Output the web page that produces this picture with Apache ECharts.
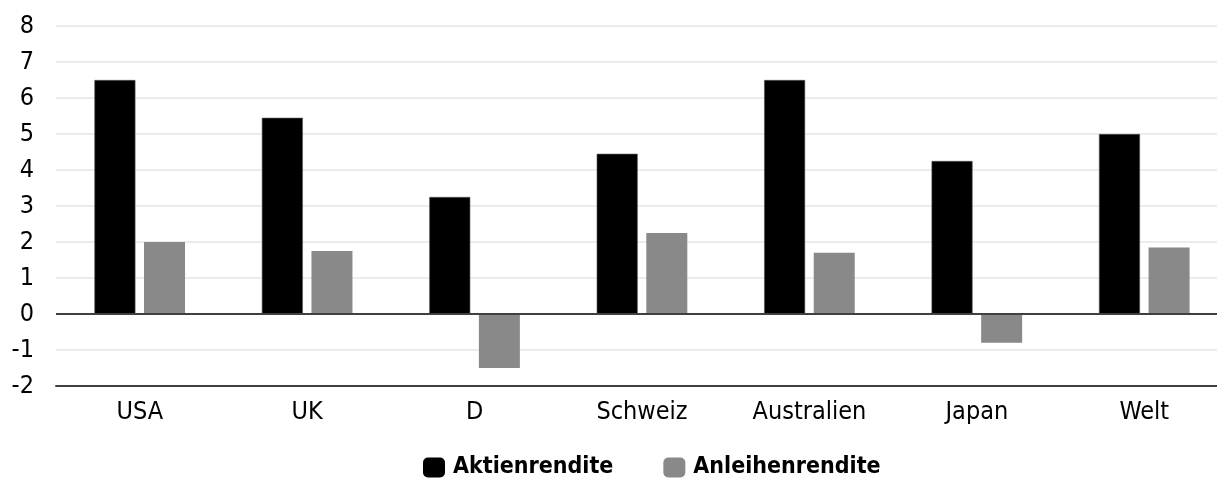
<!DOCTYPE html>
<html>
<head>
<meta charset="utf-8">
<script src="https://cdn.jsdelivr.net/npm/echarts@6/dist/echarts.min.js"></script>
<style>
html,body{margin:0;padding:0;background:#fff;}
#chart{width:1217px;height:480px;}
</style>
</head>
<body>
<div id="chart"></div>
<script>
var categories = ['USA', 'UK', 'D', 'Schweiz', 'Australien', 'Japan', 'Welt'];
var aktienrendite = [6.5, 5.45, 3.25, 4.45, 6.5, 4.25, 5.0];
var anleihenrendite = [2.0, 1.75, -1.5, 2.25, 1.7, -0.8, 1.85];
var seriesNames = ['Aktienrendite', 'Anleihenrendite'];

var FONT = '"Liberation Sans Narrow", "DejaVu Sans Condensed", "Roboto", sans-serif';
var chart = echarts.init(document.getElementById('chart'));
chart.setOption({
  animation: false,
  backgroundColor: '#fff',
  textStyle: { fontFamily: FONT },
  grid: { left: 56, top: 26, width: 1172, height: 360, containLabel: false, outerBoundsMode: 'none' },
  legend: {
    data: seriesNames,
    left: 418,
    top: 451,
    itemWidth: 22,
    itemHeight: 20,
    itemGap: 50,
    icon: 'roundRect',
    itemStyle: { borderWidth: 0 },
    textStyle: { fontFamily: FONT, fontSize: 23, fontWeight: 'bold', color: '#000', padding: [0, 0, 0, 3] }
  },
  xAxis: {
    type: 'category',
    data: categories,
    axisLine: { onZero: false, lineStyle: { color: '#404040', width: 2 } },
    axisTick: { show: false },
    axisLabel: { fontFamily: FONT, fontSize: 25, color: '#000', margin: 14 }
  },
  yAxis: {
    type: 'value',
    min: -2,
    max: 8,
    interval: 1,
    axisLine: { show: false },
    axisTick: { show: false },
    axisLabel: { fontFamily: FONT, fontSize: 25, color: '#000', margin: 22 },
    splitLine: { lineStyle: { color: '#e6e6e6', width: 1.5 } }
  },
  series: [
    {
      name: seriesNames[0],
      type: 'bar',
      data: aktienrendite,
      barWidth: 41,
      barGap: '21%',
      itemStyle: { color: '#000', borderColor: '#555', borderWidth: 0.6 },
      markLine: {
        silent: true,
        symbol: 'none',
        label: { show: false },
        lineStyle: { color: '#404040', width: 2, type: 'solid' },
        data: [{ yAxis: 0 }]
      }
    },
    {
      name: seriesNames[1],
      type: 'bar',
      data: anleihenrendite,
      barWidth: 41,
      barGap: '21%',
      itemStyle: { color: '#898989' }
    }
  ]
});
</script>
</body>
</html>
